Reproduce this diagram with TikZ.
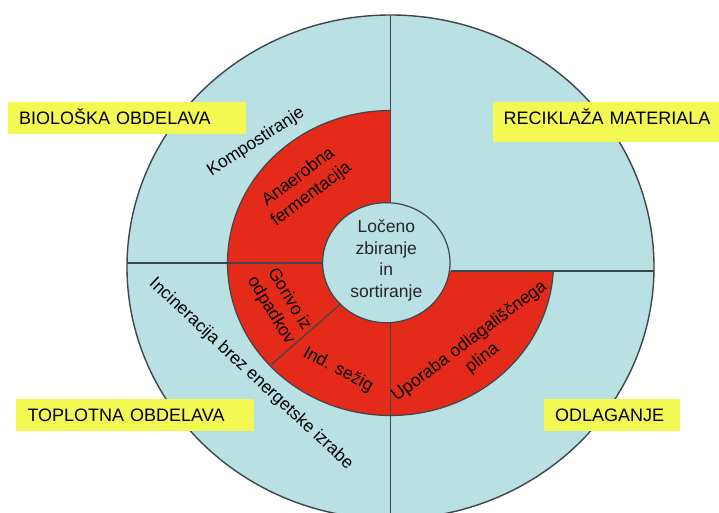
\documentclass[tikz,border=0pt]{standalone}
\usepackage{fontspec}
\setmainfont{Liberation Sans}
\usetikzlibrary{shapes.geometric}
\definecolor{ringblue}{HTML}{B9E0E3}
\definecolor{sectorred}{HTML}{E42A19}
\definecolor{tagyellow}{HTML}{F4F852}
\definecolor{edgegray}{HTML}{3D464A}
\begin{document}
\begin{tikzpicture}[x=1pt,y=1pt,
  edge/.style={draw=edgegray, line width=1.2pt},
  ringtext/.style={font=\fontsize{17.5}{21.5}\selectfont, align=center, inner sep=0pt, text=black},
  tag/.style={fill=tagyellow, anchor=north west, inner xsep=11pt, inner ysep=0pt, align=left,
    font=\fontsize{18}{21}\selectfont, text height=12.9pt, text depth=0pt, minimum height=32pt},
]
\useasboundingbox (0,0) rectangle (719,-513);
\clip (0,0) rectangle (719,-513);

% outer disk
\fill[ringblue] (390.5,-267) ellipse [x radius=263.5, y radius=252];

% red sectors of the middle ring
\begin{scope}
  \clip (390.5,-263) rectangle (200,-90);
  \fill[sectorred] (390.5,-263) ellipse [x radius=163, y radius=152.5];
\end{scope}
\begin{scope}
  \clip (390.5,-263) rectangle (200,-430);
  \fill[sectorred] (390.5,-263) ellipse [x radius=163, y radius=152.5];
\end{scope}
\begin{scope}
  \clip (390.5,-271) rectangle (570,-430);
  \fill[sectorred] (390.5,-263) ellipse [x radius=163, y radius=152.5];
\end{scope}
\draw[edge] (390.5,-263) ++(90:163 and 152.5)
  arc[start angle=90, end angle=357, x radius=163, y radius=152.5];

% central hub
\node[ellipse, draw=edgegray, line width=1.2pt, fill=ringblue, minimum width=127.4pt,
  minimum height=120pt, inner sep=0pt] (hub) at (386.3,-262.7) {};
\node[ringtext, text=black!85] (hublabel) at (386.3,-260.5) {Ločeno\\zbiranje\\in\\sortiranje};

% dividing lines
\coordinate (ntop) at (390.7,-15);
\coordinate (nbot) at (390.7,-520);
\coordinate (wend) at (127,-263);
\coordinate (eend) at (654,-271);
\coordinate (cutend) at (271.7,-364.3);
\draw[edge] (ntop) -- (ntop |- hub.north);
\draw[edge] (nbot) -- (nbot |- hub.south);
\draw[edge] (wend) -- (wend -| hub.west);
\draw[edge] (eend) -- (eend -| hub.east);
\draw[edge] (hub.222) -- (cutend);

% outer rim
\draw[edge, line width=1.4pt] (390.5,-267) ellipse [x radius=263.5, y radius=252];

% sector labels
\node[ringtext, rotate=33] (komp) at (256,-142) {Kompostiranje};
\node[ringtext, rotate=37] (anaer) at (305,-186) {Anaerobna\\fermentacija};
\node[ringtext, rotate=-59] (gorivo) at (280,-305) {Gorivo iz\\odpadkov};
\node[ringtext, rotate=-28] (sezig) at (338,-370) {Ind. sežig};
\node[ringtext, rotate=37] (plin) at (476,-350) {Uporaba odlagališčnega\\plina};
\node[ringtext, rotate=-43] (incin) at (251,-374) {Incineracija brez energetske izrabe};

% category tags
\node[tag, text width=216pt, minimum height=31.7pt] (bio) at (8,-101.7) {BIOLOŠKA OBDELAVA};
\node[tag, text width=240pt, minimum height=40pt, text depth=8.4pt, inner xsep=10.7pt] (recik) at (492.7,-101.7) {RECIKLAŽA MATERIALA};
\node[tag, text width=215.4pt, minimum height=32.4pt, inner xsep=11.3pt] (topl) at (16,-398.3) {TOPLOTNA OBDELAVA};
\node[tag, text width=112.6pt, minimum height=32.4pt, inner xsep=11.7pt] (odl) at (543.3,-398.3) {ODLAGANJE};
\end{tikzpicture}
\end{document}
